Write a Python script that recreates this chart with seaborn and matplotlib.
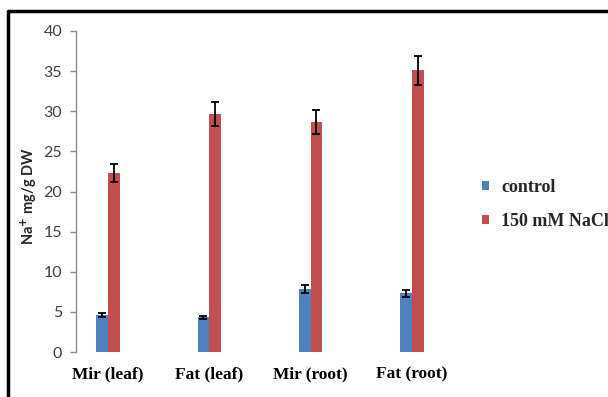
import matplotlib
matplotlib.use("Agg")
import matplotlib.pyplot as plt
from matplotlib.lines import Line2D
import seaborn as sns
import pandas as pd

categories = ["Mir (leaf)", "Fat (leaf)", "Mir (root)", "Fat (root)"]
treatments = ["control", "150 mM NaCl"]
control_vals = [4.6, 4.3, 7.8, 7.3]
control_err = [0.2, 0.2, 0.5, 0.4]
nacl_vals = [22.3, 29.7, 28.7, 35.1]
nacl_err = [1.1, 1.5, 1.5, 1.8]
yticks = [0, 5, 10, 15, 20, 25, 30, 35, 40]

df = pd.DataFrame({
    "cat": categories * 2,
    "trt": [treatments[0]] * 4 + [treatments[1]] * 4,
    "val": control_vals + nacl_vals,
    "err": control_err + nacl_err,
})

sns.set_style("white")
W, H = 608, 397
fig = plt.figure(figsize=(W / 100, H / 100), dpi=100)
ax_left, ax_right = 76, 462.6
ax_bottom, ax_top = 352, 31
ax = fig.add_axes([ax_left / W, 1 - ax_bottom / H, (ax_right - ax_left) / W, (ax_bottom - ax_top) / H])

palette = {"control": "#4F81BD", "150 mM NaCl": "#C0504D"}
sns.barplot(data=df, x="cat", y="val", hue="trt", order=categories, hue_order=treatments,
            palette=palette, width=0.23, errorbar=None, saturation=1, ax=ax, legend=True,
            linewidth=0, edgecolor="none")

# error bars at bar centres
bars = [p for p in ax.patches if p.get_height() > 0]
for i, trt in enumerate(treatments):
    sub = df[df.trt == trt]
    for j, cat in enumerate(categories):
        p = bars[i * 4 + j]
        xc = p.get_x() + p.get_width() / 2
        row = sub[sub.cat == cat].iloc[0]
        ax.errorbar(xc, row.val, yerr=row.err, fmt="none", ecolor="black",
                    elinewidth=1.3, capsize=2.6, capthick=1.3, zorder=5)

ax.set_xlim(-0.316, 3.5)
ax.set_ylim(0, 40)
ax.set_yticks(yticks)
ax.set_yticklabels([str(t) for t in yticks], fontfamily="Lato", fontsize=11.5, color="#404040")
ax.tick_params(axis="y", left=True, length=4, width=1, color="#8c8c8c", pad=6)
ax.tick_params(axis="x", bottom=False, pad=7)
for lbl in ax.get_xticklabels():
    lbl.set_fontfamily("Liberation Serif")
    lbl.set_fontweight("bold")
    lbl.set_fontsize(12.5)
    lbl.set_color("black")
ax.set_xlabel("")
ax.set_ylabel(r"Na$^{\mathbf{+}}$ mg/g DW", fontfamily="Lato", fontweight="bold", fontsize=10.5)
ax.yaxis.set_label_coords(-(76 - 39) / (ax_right - ax_left), (352 - 196) / (352 - 31))

for s in ["top", "right", "bottom"]:
    ax.spines[s].set_visible(False)
ax.spines["left"].set_color("#8c8c8c")
ax.spines["left"].set_linewidth(1)

leg = ax.legend(loc="upper left", bbox_to_anchor=(481.5 / W, 1 - 179 / H),
                bbox_transform=fig.transFigure, frameon=False, borderpad=0, borderaxespad=0,
                handlelength=0.4, handleheight=0.4, handletextpad=0.7, labelspacing=0.95,
                prop={"family": "Liberation Serif", "weight": "bold", "size": 13})

# figure frame (top and left lines)
fig.add_artist(Line2D([7.5 / W, 1], [1 - 11 / H, 1 - 11 / H], color="black", lw=2.5, transform=fig.transFigure))
fig.add_artist(Line2D([7.5 / W, 7.5 / W], [0, 1 - 11 / H], color="black", lw=2.5, transform=fig.transFigure))

fig.savefig("out.png", dpi=100)
